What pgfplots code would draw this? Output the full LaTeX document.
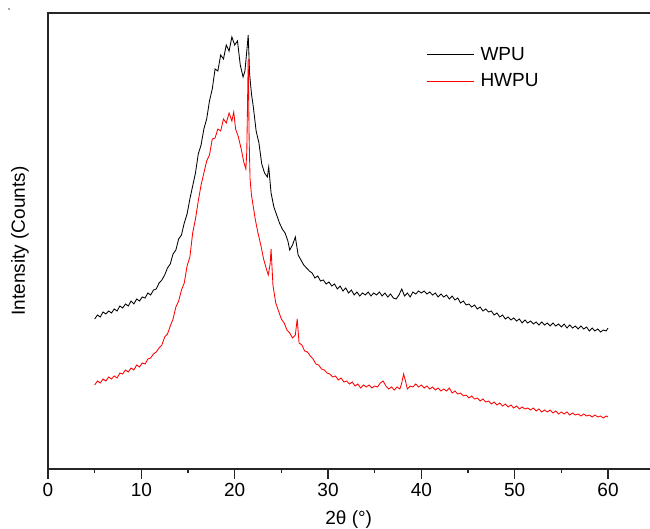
\documentclass[border=0pt]{standalone}
\usepackage{pgfplots}
\pgfplotsset{compat=1.18}
\usepackage{fontspec}
\setmainfont{Liberation Sans}
\begin{document}
\begin{tikzpicture}
\useasboundingbox (-48pt,-60pt) rectangle (602pt,469pt);
\fill[black!70] (-39pt,460pt) circle (0.9pt);
\begin{axis}[
  at={(0,0)}, anchor=south west,
  scale only axis, width=603.5pt, height=456pt,
  xmin=0, xmax=64.66, ymin=0, ymax=456,
  xtick pos=left, ytick pos=left,
  axis line style={line width=1.2pt, black!85},
  every tick/.style={line width=1.1pt, black!85},
  xtick={0,10,20,30,40,50,60},
  minor xtick={5,15,25,35,45,55},
  ytick=\empty,
  minor ytick={26.82,53.65,80.47,107.29,134.12,160.94,187.76,214.59,241.41,268.24,295.06,321.88,348.71,375.53,402.35,429.18},
  tick align=outside,
  major tick length=10pt, minor tick length=4.5pt,
  /pgf/number format/assume math mode=true,
  tick label style={font=\fontsize{19}{19}\selectfont},
  xticklabel style={yshift=-1pt},
  xlabel={2θ (°)},
  ylabel={Intensity (Counts)},
  every axis x label/.style={at={(rel axis cs:0.5,0)}, anchor=center, xshift=-1pt, yshift=-51pt, font=\fontsize{19}{19}\selectfont},
  every axis y label/.style={at={(rel axis cs:0,0.5)}, anchor=center, rotate=90, yshift=28pt, font=\fontsize{19}{19}\selectfont},
  legend style={draw=none, fill=none, at={(rel axis cs:0.627,0.93)}, anchor=north west, font=\fontsize{19}{19}\selectfont, inner sep=0pt, row sep=8pt,
    /tikz/every odd column/.append style={column sep=4pt}},
  legend cell align=left,
  legend image code/.code={\draw[#1, line width=0.9pt] (0pt,0pt) -- (47pt,0pt);},
  clip=false,
]
\addplot[black, line width=0.85pt] coordinates {
(5.0,150)(5.3,154)(5.6,152)(5.9,157)(6.2,155)(6.5,158)(6.8,156)(7.1,160)(7.4,158)(7.7,163)
(8.0,161)(8.3,165)(8.6,163)(8.9,168)(9.2,165)(9.5,170)(9.8,168)(10.1,172)(10.4,171)(10.7,176)
(11.0,174)(11.3,179)(11.6,180)(11.9,186)(12.2,189)(12.5,194)(12.8,201)(13.1,205)(13.4,215)(13.7,219)
(14.0,230)(14.3,234)(14.6,246)(14.9,255)(15.2,270)(15.5,283)(15.8,296)(16.1,315)(16.4,324)(16.7,340)
(17.0,350)(17.3,368)(17.6,380)(17.9,400)(18.2,398)(18.5,414)(18.8,410)(19.1,424)(19.4,418)(19.7,432)
(20.0,424)(20.3,428)(20.6,404)(20.9,392)(21.1,398)(21.3,418)(21.45,434)(21.6,395)(21.8,375)(22.0,362)
(22.3,338)(22.6,326)(22.9,305)(23.2,296)(23.5,292)(23.65,302)(23.9,276)(24.2,262)(24.5,254)(24.8,246)
(25.1,240)(25.4,236)(25.7,228)(25.9,219)(26.2,224)(26.5,232)(26.8,214)(27.1,209)(27.4,204)(27.7,201)
(28.0,198)(28.3,196)(28.6,191)(28.9,193)(29.2,188)(29.5,189)(29.8,185)(30.1,187)(30.4,183)(30.7,185)
(31.0,180)(31.3,183)(31.6,178)(31.9,181)(32.2,176)(32.5,179)(32.8,174)(33.1,177)(33.4,173)(33.7,176)
(34.0,174)(34.3,177)(34.6,173)(34.9,176)(35.2,174)(35.5,177)(35.8,173)(36.1,176)(36.4,172)(36.7,175)
(37.0,171)(37.3,170)(37.6,174)(37.9,180)(38.2,173)(38.5,176)(38.8,172)(39.1,177)(39.4,175)(39.7,178)
(40.0,176)(40.3,178)(40.6,175)(40.9,177)(41.2,174)(41.5,176)(41.8,172)(42.1,175)(42.4,172)(42.7,174)
(43.0,170)(43.3,173)(43.6,169)(43.9,171)(44.2,166)(44.5,168)(44.8,164)(45.1,165)(45.4,162)(45.7,164)
(46.0,160)(46.3,162)(46.6,158)(46.9,160)(47.2,157)(47.5,158)(47.8,154)(48.1,156)(48.4,152)(48.7,154)
(49.0,150)(49.3,152)(49.6,149)(49.9,151)(50.2,148)(50.5,150)(50.8,146)(51.1,149)(51.4,146)(51.7,148)
(52.0,145)(52.3,147)(52.6,144)(52.9,147)(53.2,144)(53.5,146)(53.8,143)(54.1,146)(54.4,143)(54.7,145)
(55.0,142)(55.3,145)(55.6,141)(55.9,144)(56.2,141)(56.5,143)(56.8,140)(57.1,143)(57.4,140)(57.7,142)
(58.0,138)(58.3,141)(58.6,138)(58.9,140)(59.2,137)(59.5,139)(59.8,138)(60.0,141)
};
\addlegendentry{WPU}
\addplot[red, line width=0.85pt] coordinates {
(5.0,84)(5.3,88)(5.6,86)(5.9,90)(6.2,88)(6.5,92)(6.8,90)(7.1,93)(7.4,91)(7.7,96)
(8.0,95)(8.3,99)(8.6,97)(8.9,101)(9.2,99)(9.5,104)(9.8,102)(10.1,106)(10.4,105)(10.7,110)
(11.0,111)(11.3,115)(11.6,117)(11.9,121)(12.2,124)(12.5,132)(12.8,135)(13.1,143)(13.4,150)(13.7,162)
(14.0,168)(14.3,179)(14.6,186)(14.9,203)(15.2,212)(15.5,236)(15.8,250)(16.1,268)(16.4,284)(16.7,296)
(17.0,308)(17.3,314)(17.6,330)(17.9,331)(18.2,340)(18.5,338)(18.8,350)(19.1,346)(19.4,356)(19.7,348)
(19.9,357)(20.1,340)(20.4,332)(20.7,320)(21.0,306)(21.2,300)(21.3,318)(21.45,410)(21.55,330)(21.65,290)
(21.8,274)(22.0,262)(22.2,250)(22.5,236)(22.8,224)(23.1,210)(23.4,200)(23.6,194)(23.8,205)(23.9,220)
(24.1,184)(24.4,166)(24.7,158)(25.0,150)(25.3,146)(25.6,139)(25.9,136)(26.2,131)(26.5,134)(26.7,150)
(26.9,126)(27.2,124)(27.5,118)(27.8,117)(28.1,113)(28.4,110)(28.7,105)(29.0,104)(29.3,100)(29.6,99)
(29.9,96)(30.2,95)(30.5,92)(30.8,93)(31.1,89)(31.4,91)(31.7,87)(32.0,88)(32.3,85)(32.6,87)
(32.9,83)(33.2,85)(33.5,81)(33.8,84)(34.1,82)(34.4,84)(34.7,81)(35.0,83)(35.3,82)(35.6,86)
(35.9,88)(36.2,83)(36.5,80)(36.8,82)(37.1,79)(37.4,82)(37.7,80)(37.9,86)(38.1,95)(38.3,88)
(38.5,80)(38.8,83)(39.1,82)(39.4,85)(39.7,82)(40.0,84)(40.3,81)(40.6,83)(40.9,80)(41.2,82)
(41.5,79)(41.8,81)(42.1,78)(42.4,80)(42.7,78)(43.0,81)(43.3,76)(43.6,78)(43.9,75)(44.2,76)
(44.5,73)(44.8,74)(45.1,71)(45.4,73)(45.7,70)(46.0,71)(46.3,68)(46.6,70)(46.9,67)(47.2,68)
(47.5,65)(47.8,67)(48.1,64)(48.4,66)(48.7,63)(49.0,65)(49.3,62)(49.6,64)(49.9,61)(50.2,63)
(50.5,60)(50.8,62)(51.1,60)(51.4,61)(51.7,59)(52.0,61)(52.3,58)(52.6,60)(52.9,57)(53.2,59)
(53.5,57)(53.8,59)(54.1,56)(54.4,58)(54.7,55)(55.0,57)(55.3,55)(55.6,57)(55.9,54)(56.2,56)
(56.5,54)(56.8,55)(57.1,53)(57.4,55)(57.7,53)(58.0,54)(58.3,52)(58.6,54)(58.9,52)(59.2,53)
(59.5,51)(59.8,53)(60.0,52)
};
\addlegendentry{HWPU}
\end{axis}
\draw[line width=1.4pt, black!85] (-0.6pt,456pt) -- (602pt,456pt);
\end{tikzpicture}
\end{document}
